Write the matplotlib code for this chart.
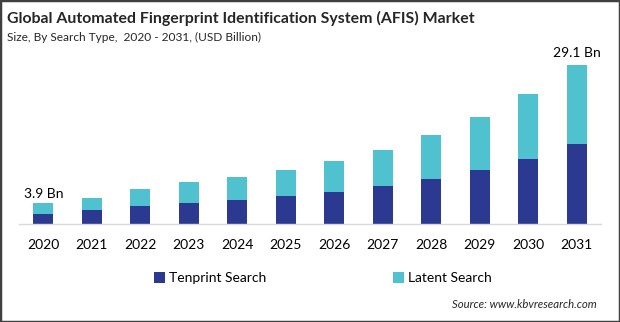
import matplotlib.pyplot as plt
from matplotlib.patches import Rectangle

years = ["2020", "2021", "2022", "2023", "2024", "2025",
         "2026", "2027", "2028", "2029", "2030", "2031"]
tenprint = [1.9, 2.6, 3.3, 3.8, 4.4, 5.1, 5.9, 7.0, 8.2, 9.9, 11.9, 14.6]
latent = [2.0, 2.2, 3.1, 3.9, 4.2, 4.8, 5.6, 6.5, 8.1, 9.7, 11.9, 14.5]
first_label = "3.9 Bn"
last_label = "29.1 Bn"

DARK = "#2b3990"
LIGHT = "#4fc1cf"
FONT = "Lato"

plt.rcParams["font.family"] = [FONT, "DejaVu Sans"]

fig = plt.figure(figsize=(6.2, 3.22), dpi=100)
ax = fig.add_axes([19 / 620, 98 / 322, 582 / 620, 184 / 322])

x = range(len(years))
ax.bar(x, tenprint, width=0.41, color=DARK, label="Tenprint Search")
ax.bar(x, latent, width=0.41, bottom=tenprint, color=LIGHT, label="Latent Search")

totals = [a + b for a, b in zip(tenprint, latent)]
ax.text(0, totals[0] + 0.5, first_label, ha="center", va="bottom", fontsize=10)
ax.text(len(years) - 1, totals[-1] + 1.2, last_label, ha="center", va="bottom", fontsize=10)

ax.set_xlim(-0.5, len(years) - 0.5)
ax.set_ylim(0, 33.7)
ax.set_xticks(list(x))
ax.set_xticklabels(years, fontsize=10)
ax.tick_params(axis="x", length=0, pad=11)
ax.set_yticks([])
for side in ("left", "right", "top"):
    ax.spines[side].set_visible(False)
ax.spines["bottom"].set_color("#d9d9d9")
ax.spines["bottom"].set_linewidth(1)

fig.text(7 / 620, 1 - 18 / 322, "Global Automated Fingerprint Identification System (AFIS) Market",
         fontsize=11.4, fontweight="bold", va="center", color="#262626")
fig.text(7 / 620, 1 - 37 / 322, "Size, By Search Type,  2020 - 2031, (USD Billion)",
         fontsize=8.6, va="center", color="#262626")

handles, labels = ax.get_legend_handles_labels()
fig.legend(handles, labels, loc="center", bbox_to_anchor=(323 / 620, 1 - 278 / 322), ncol=2,
           frameon=False, fontsize=10, handlelength=0.8, handleheight=0.8,
           handletextpad=0.3, columnspacing=9.1)

fig.text(597 / 620, 1 - 305 / 322, "Source: www.kbvresearch.com", fontsize=8.2,
         style="italic", ha="right", va="center", color="#262626")

fig.patches.append(Rectangle((0, 0), 1, 1, transform=fig.transFigure, fill=False,
                             edgecolor="#404040", linewidth=2.5))

fig.savefig("out.png", dpi=100)
